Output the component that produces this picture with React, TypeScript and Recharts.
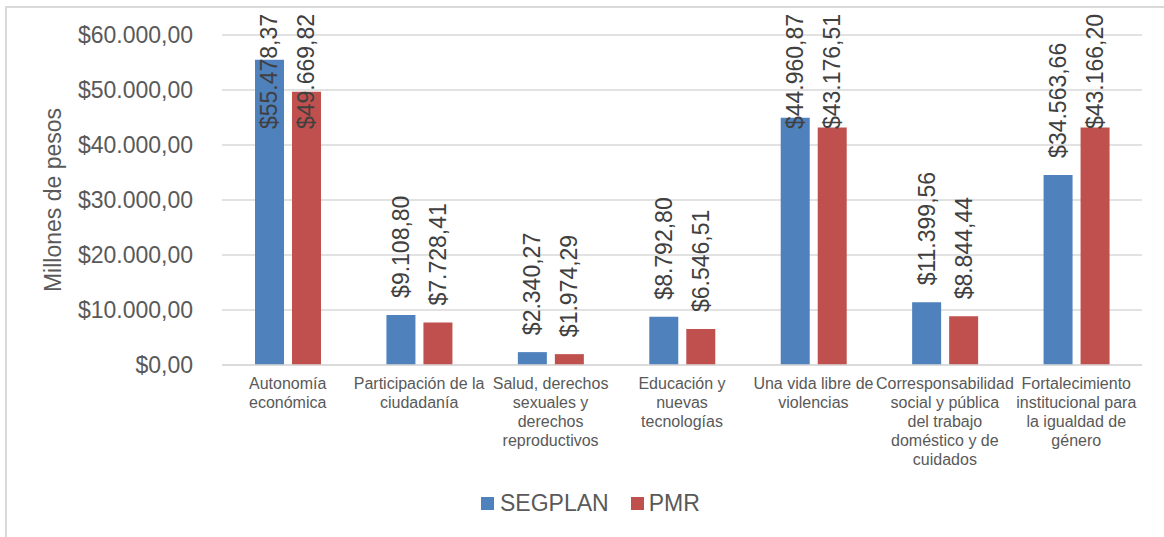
import React from 'react';
import { BarChart, Bar, XAxis, YAxis, CartesianGrid, Legend, LabelList } from 'recharts';

const categories = [
  'Autonomía\neconómica',
  'Participación de la\nciudadanía',
  'Salud, derechos\nsexuales y\nderechos\nreproductivos',
  'Educación y\nnuevas\ntecnologías',
  'Una vida libre de\nviolencias',
  'Corresponsabilidad\nsocial y pública\ndel trabajo\ndoméstico y de\ncuidados',
  'Fortalecimiento\ninstitucional para\nla igualdad de\ngénero'
];
const segplan = [55478.37, 9108.8, 2340.27, 8792.8, 44960.87, 11399.56, 34563.66];
const pmr = [49669.82, 7728.41, 1974.29, 6546.51, 43176.51, 8844.44, 43166.2];
const yTicks = [0, 10000, 20000, 30000, 40000, 50000, 60000];

const data = categories.map((name, i) => ({ name, segplan: segplan[i], pmr: pmr[i] }));

const BLUE = '#4F81BD';
const RED = '#C0504D';
const FONT = '"Liberation Sans", Arial, sans-serif';
const BIG = 23;

const money = (v: number) => {
  const [int, dec] = v.toFixed(2).split('.');
  return '$' + int.replace(/\B(?=(\d{3})+(?!\d))/g, '.') + ',' + dec;
};

// rough Arial widths in em
const textWidth = (s: string, size: number) =>
  s.split('').reduce((w, c) => w + (c === '.' || c === ',' ? 0.278 : 0.556), 0) * size;

const renderValue = (props: any) => {
  const { x, y, width, value } = props;
  const str = money(value);
  const cx = x + width / 2;
  const bottom = Math.max(y - 17, 14 + textWidth(str, BIG));
  return (
    <text
      x={cx}
      y={bottom}
      transform={`rotate(-90, ${cx}, ${bottom})`}
      textAnchor="start"
      dominantBaseline="central"
      fontSize={BIG}
      fontFamily={FONT}
      fill="#404040"
    >
      {str}
    </text>
  );
};

const renderCategory = (props: any) => {
  const { x, y, payload } = props;
  const lines = String(payload.value).split('\n');
  return (
    <g>
      {lines.map((l, i) => (
        <text
          key={i}
          x={x}
          y={y + 24 + i * 19}
          textAnchor="middle"
          fontSize={16}
          fontFamily={FONT}
          fill="#595959"
        >
          {l}
        </text>
      ))}
    </g>
  );
};

const renderLegend = () => (
  <div style={{ display: 'flex', alignItems: 'center', marginLeft: 481, fontFamily: FONT, fontSize: BIG, color: '#595959' }}>
    <span style={{ width: 13, height: 13, background: BLUE, display: 'inline-block', marginRight: 6 }} />
    <span style={{ marginRight: 22 }}>SEGPLAN</span>
    <span style={{ width: 13, height: 13, background: RED, display: 'inline-block', marginRight: 5 }} />
    <span>PMR</span>
  </div>
);

const App: React.FC = () => (
  <div style={{ position: 'absolute', top: 0, left: 0, width: 1164, height: 537, background: '#fff' }}>
    <div
      style={{
        position: 'absolute',
        left: 5,
        top: 6,
        width: 1170,
        height: 540,
        borderLeft: '2px solid #d9d9d9',
        borderTop: '2px solid #d9d9d9'
      }}
    />
    <BarChart
      width={1164}
      height={537}
      data={data}
      margin={{ top: 35, right: 22, left: 0, bottom: 0 }}
      barSize={29}
      barGap={8}
      style={{ position: 'absolute', top: 0, left: 0 }}
    >
      <CartesianGrid vertical={false} stroke="#d9d9d9" strokeWidth={1.5} />
      <XAxis
        dataKey="name"
        height={172}
        interval={0}
        tickLine={false}
        axisLine={{ stroke: '#d9d9d9', strokeWidth: 1.5 }}
        tick={renderCategory}
        tickSize={0}
        tickMargin={0}
      />
      <YAxis
        width={222}
        domain={[0, 60000]}
        ticks={yTicks}
        tickFormatter={money}
        tickLine={false}
        axisLine={false}
        tickSize={0}
        tickMargin={29}
        tick={{ fontSize: BIG, fontFamily: FONT, fill: '#595959' }}
        label={{
          content: () => (
            <text
              x={53}
              y={200}
              transform="rotate(-90, 53, 200)"
              textAnchor="middle"
              dominantBaseline="central"
              fontSize={BIG}
              fontFamily={FONT}
              fill="#595959"
            >
              Millones de pesos
            </text>
          )
        }}
      />
      <Legend
        verticalAlign="middle"
        content={renderLegend}
        wrapperStyle={{ top: 490, left: 0, width: 1164 }}
      />
      <Bar dataKey="segplan" name="SEGPLAN" fill={BLUE} isAnimationActive={false}>
        <LabelList dataKey="segplan" content={renderValue} />
      </Bar>
      <Bar dataKey="pmr" name="PMR" fill={RED} isAnimationActive={false}>
        <LabelList dataKey="pmr" content={renderValue} />
      </Bar>
    </BarChart>
  </div>
);

export default App;
